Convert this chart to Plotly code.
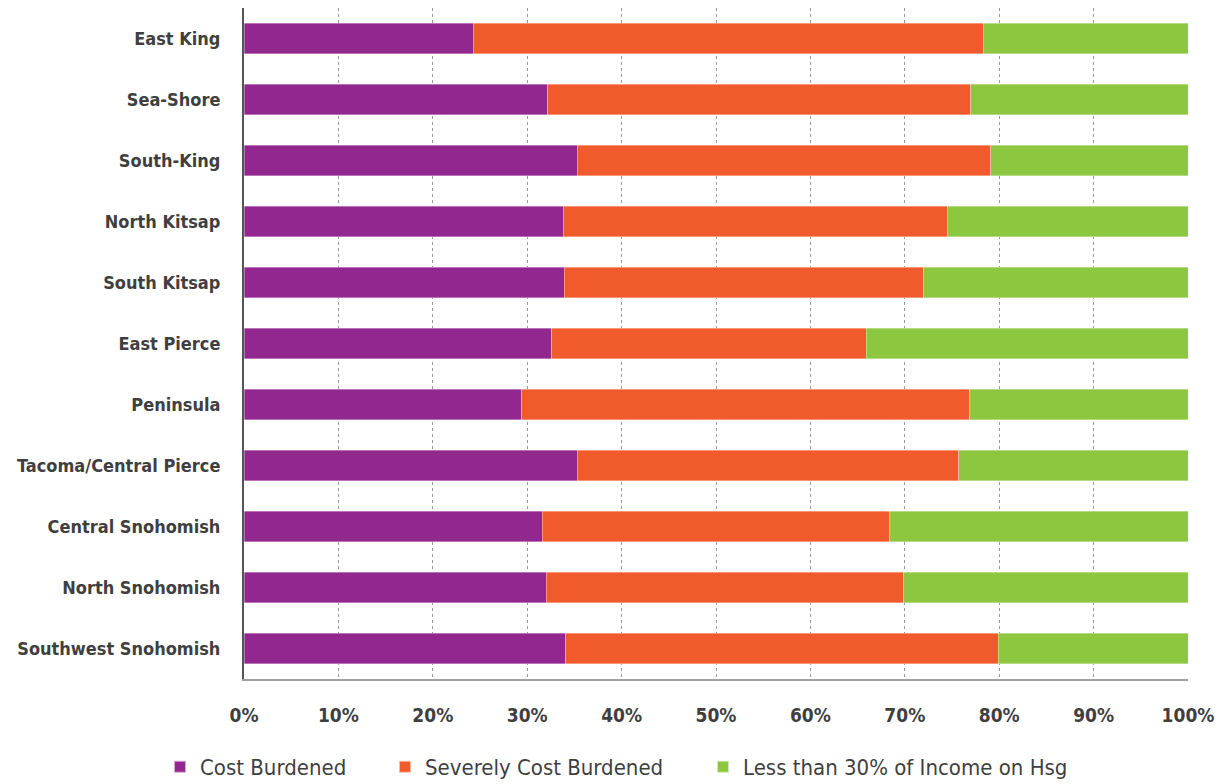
import plotly.graph_objects as go

categories = ["East King", "Sea-Shore", "South-King", "North Kitsap", "South Kitsap",
              "East Pierce", "Peninsula", "Tacoma/Central Pierce", "Central Snohomish",
              "North Snohomish", "Southwest Snohomish"]
cost_burdened = [24.3, 32.2, 35.3, 33.8, 33.9, 32.6, 29.4, 35.3, 31.6, 32.0, 34.1]
severely_cost_burdened = [54.0, 44.8, 43.8, 40.7, 38.1, 33.3, 47.5, 40.4, 36.8, 37.9, 45.8]
less_than_30 = [21.7, 23.0, 20.9, 25.5, 28.0, 34.1, 23.1, 24.3, 31.6, 30.1, 20.1]
tick_vals = [0, 10, 20, 30, 40, 50, 60, 70, 80, 90, 100]
tick_text = ["0%", "10%", "20%", "30%", "40%", "50%", "60%", "70%", "80%", "90%", "100%"]

FONT = "DejaVu Sans Condensed, Liberation Sans Narrow, Roboto, sans-serif"
GREY = "#3f3f3f"

series = [("Cost Burdened", cost_burdened, "#92278f", "legend"),
          ("Severely Cost Burdened", severely_cost_burdened, "#f15a2b", "legend2"),
          ("Less than 30% of Income on Hsg", less_than_30, "#8dc63f", "legend3")]

fig = go.Figure()
for name, vals, col, lg in series:
    fig.add_trace(go.Bar(y=categories, x=vals, name=name, orientation="h", legend=lg,
                         showlegend=True,
                         marker=dict(color=col, line=dict(width=0.6, color="rgba(255,255,255,0.6)"))))

def leg(xpos):
    return dict(orientation="h", x=xpos, xanchor="left", xref="container",
                y=25 / 784, yanchor="middle", yref="container",
                font=dict(size=22, family=FONT, color=GREY), visible=True,
                itemwidth=30, itemsizing="constant", bgcolor="rgba(0,0,0,0)")

fig.update_layout(
    barmode="stack", bargap=0.5, showlegend=True,
    width=1223, height=784,
    margin=dict(l=236, r=43, t=0, b=113),
    plot_bgcolor="white", paper_bgcolor="white",
    font=dict(family=FONT, color=GREY, size=18),
    legend=leg(152 / 1223), legend2=leg(377 / 1223), legend3=leg(695 / 1223),
    xaxis=dict(range=[0, 100], tickvals=tick_vals, ticktext=tick_text,
               showgrid=True, gridcolor="#9a9a9a", griddash="dot", gridwidth=1,
               showline=True, linecolor="#a0a0a0", linewidth=2,
               tickfont=dict(family=FONT, size=19, color=GREY, weight="bold"),
               ticks="", ticklabelstandoff=18, zeroline=False, automargin=False),
    yaxis=dict(autorange="reversed", showline=True, linecolor="#555555", linewidth=2,
               tickfont=dict(family=FONT, size=18, color=GREY, weight="bold"),
               ticks="", ticklabelstandoff=18, showgrid=False, automargin=False),
)
fig.write_html("out.html")
